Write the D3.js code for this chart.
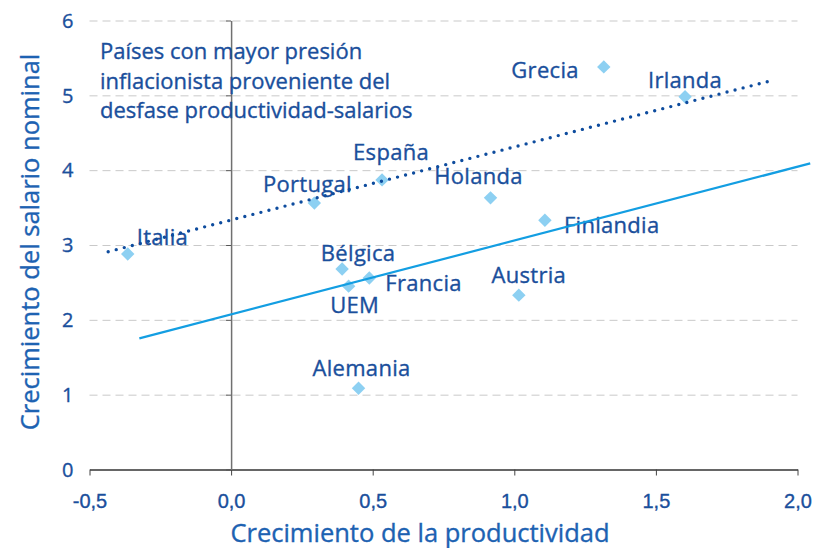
<!DOCTYPE html>
<html>
<head>
<meta charset="utf-8">
<script src="https://cdn.jsdelivr.net/npm/d3@7"></script>
<style>
  body { margin: 0; background: #fff; }
  #chart svg { display: block; font-family: 'Open Sans', sans-serif; }
  #chart text { stroke-width: 0.35px; }
  .grid line { stroke: #c9c9c9; stroke-dasharray: 8 5; }
  .grid path { display: none; }
</style>
</head>
<body>
<div id="chart"></div>
<script>
// chart data
const countries = ['Italia', 'Portugal', 'España', 'Grecia', 'Irlanda', 'Holanda', 'Finlandia', 'Austria', 'Bélgica', 'Francia', 'UEM', 'Alemania'];
const productivity = [-0.365, 0.294, 0.533, 1.316, 1.603, 0.916, 1.108, 1.016, 0.392, 0.488, 0.415, 0.45];
const wages = [2.88, 3.56, 3.87, 5.38, 4.98, 3.63, 3.33, 2.33, 2.68, 2.56, 2.45, 1.085];

// trend lines (end points)
const highTrendX = [-0.434, 1.901];
const highTrendY = [2.91, 5.19];
const allTrendX = [-0.324, 2.045];
const allTrendY = [1.753, 4.09];

const xTicks = [-0.5, 0, 0.5, 1, 1.5, 2];
const yTicks = [0, 1, 2, 3, 4, 5, 6];
const note = ['Países con mayor presión', 'inflacionista proveniente del', 'desfase productividad-salarios'];

// label placement next to each marker: [anchor, dx, dy]
const labelPos = {
  Italia: ['start', 9, -9],
  Portugal: ['middle', -7, -11],
  'España': ['middle', 9, -20],
  Grecia: ['end', -25, 11],
  Irlanda: ['middle', 0, -9],
  Holanda: ['middle', -12, -14],
  Finlandia: ['start', 19, 13],
  Austria: ['middle', 10, -12],
  'Bélgica': ['middle', 16, -8],
  Francia: ['start', 16, 13],
  UEM: ['middle', 6, 27],
  Alemania: ['middle', 3, -12],
};

const labelBlue = '#1a4f9c';
const titleBlue = '#1d62b2';

const margin = { top: 20.5, right: 20.5, bottom: 78.5, left: 89.5 };
const width = 818 - margin.left - margin.right;
const height = 548 - margin.top - margin.bottom;

const x = d3.scaleLinear().domain([-0.5, 2]).range([0, width]);
const y = d3.scaleLinear().domain([0, 6]).range([height, 0]);

const svg = d3
  .select('#chart')
  .append('svg')
  .attr('width', 818)
  .attr('height', 548);

const g = svg.append('g').attr('transform', `translate(${margin.left},${margin.top})`);

// dashed gridlines
g.append('g')
  .attr('class', 'grid')
  .call(d3.axisLeft(y).tickValues(yTicks.filter(d => d > 0)).tickSize(-width).tickFormat(''));

// x axis along y = 0
const xAxis = g
  .append('g')
  .attr('transform', `translate(0,${height})`)
  .call(d3.axisBottom(x).tickValues(xTicks).tickSize(6).tickSizeOuter(0));
xAxis.select('.domain').attr('stroke', '#333').attr('stroke-width', 1.5);
xAxis.selectAll('.tick line').attr('stroke', '#444');
xAxis
  .selectAll('text')
  .text(d => d.toFixed(1).replace('.', ','))
  .attr('fill', labelBlue)
  .attr('stroke', labelBlue)
  .attr('font-size', 20)
  .attr('dy', null)
  .attr('y', 38);

// y axis along x = 0
const yAxis = g
  .append('g')
  .attr('transform', `translate(${x(0)},0)`)
  .call(d3.axisLeft(y).tickValues(yTicks).tickSize(5).tickSizeOuter(0));
yAxis.select('.domain').attr('stroke', '#707070').attr('stroke-width', 1.5);
yAxis.selectAll('.tick line').attr('stroke', '#555');
yAxis.selectAll('text').remove();

// y tick labels sit at the left edge of the plot
g.append('g')
  .selectAll('text')
  .data(yTicks)
  .join('text')
  .attr('x', -16)
  .attr('y', d => y(d))
  .attr('dy', '0.36em')
  .attr('text-anchor', 'end')
  .attr('fill', labelBlue)
  .attr('stroke', labelBlue)
  .attr('font-size', 20)
  .text(d => d);

// points
const data = countries.map((c, i) => ({ name: c, px: productivity[i], wy: wages[i] }));

g.append('g')
  .selectAll('path')
  .data(data)
  .join('path')
  .attr('d', d3.symbol().type(d3.symbolDiamond2).size(115))
  .attr('transform', d => `translate(${x(d.px)},${y(d.wy)})`)
  .attr('fill', '#8dd0f2');

// country labels
g.append('g')
  .selectAll('text')
  .data(data)
  .join('text')
  .attr('x', d => x(d.px) + labelPos[d.name][1])
  .attr('y', d => y(d.wy) + labelPos[d.name][2])
  .attr('text-anchor', d => labelPos[d.name][0])
  .attr('fill', labelBlue)
  .attr('stroke', labelBlue)
  .attr('font-size', 22)
  .attr('letter-spacing', 0.3)
  .text(d => d.name);

// trend lines
const line = d3
  .line()
  .x(d => x(d[0]))
  .y(d => y(d[1]));

g.append('path')
  .datum(allTrendX.map((v, i) => [v, allTrendY[i]]))
  .attr('d', line)
  .attr('fill', 'none')
  .attr('stroke', '#139ee2')
  .attr('stroke-width', 2.2);

g.append('path')
  .datum(highTrendX.map((v, i) => [v, highTrendY[i]]))
  .attr('d', line)
  .attr('fill', 'none')
  .attr('stroke', '#0e4c9e')
  .attr('stroke-width', 3.4)
  .attr('stroke-linecap', 'round')
  .attr('stroke-dasharray', '0 8.3');

// annotation
g.append('text')
  .attr('fill', labelBlue)
  .attr('stroke', labelBlue)
  .attr('font-size', 22)
  .selectAll('tspan')
  .data(note)
  .join('tspan')
  .attr('x', 100 - margin.left)
  .attr('y', (d, i) => 59 - margin.top + i * 29.5)
  .text(d => d);

// axis titles
svg
  .append('text')
  .attr('x', 420)
  .attr('y', 542)
  .attr('text-anchor', 'middle')
  .attr('fill', titleBlue)
  .attr('stroke', titleBlue)
  .attr('font-size', 25.5)
  .text('Crecimiento de la productividad');

svg
  .append('text')
  .attr('transform', `translate(39,242) rotate(-90)`)
  .attr('text-anchor', 'middle')
  .attr('fill', titleBlue)
  .attr('stroke', titleBlue)
  .attr('font-size', 25.5)
  .text('Crecimiento del salario nominal');
</script>
</body>
</html>
